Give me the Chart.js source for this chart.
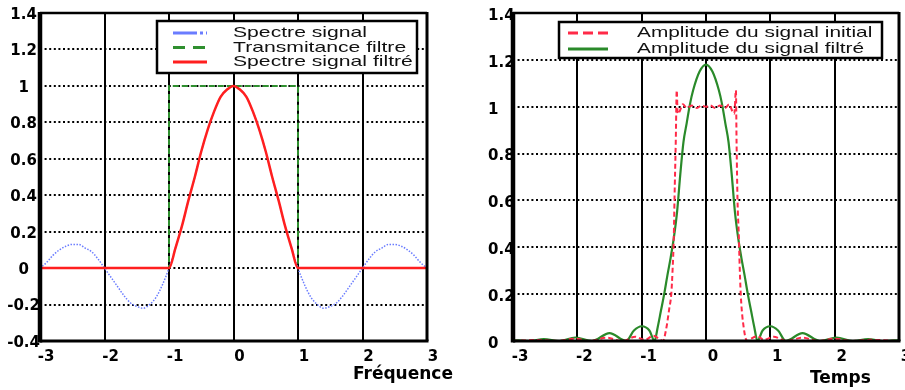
<!DOCTYPE html>
<html>
<head>
<meta charset="utf-8">
<script src="https://cdn.jsdelivr.net/npm/chart.js@4.4.1/dist/chart.umd.min.js"></script>
<style>
  html, body { margin: 0; padding: 0; background: #fff; }
  .box { position: absolute; top: 0; height: 390px; }
  #left { left: 0; width: 460px; }
  #right { left: 460px; width: 445px; }
</style>
</head>
<body>
<div class="box" id="left"><canvas id="spectre"></canvas></div>
<div class="box" id="right"><canvas id="temps"></canvas></div>
<script>
// left panel : spectrum vs frequency
const freqX = [-3.0, -2.9, -2.8, -2.7, -2.6, -2.5, -2.4, -2.3, -2.2, -2.1,
  -2.0, -1.9, -1.8, -1.7, -1.6, -1.5, -1.4, -1.3, -1.2, -1.1,
  -1.0, -0.9, -0.8, -0.7, -0.6, -0.5, -0.4, -0.3, -0.2, -0.1,
  0.0, 0.1, 0.2, 0.3, 0.4, 0.5, 0.6, 0.7, 0.8, 0.9,
  1.0, 1.1, 1.2, 1.3, 1.4, 1.5, 1.6, 1.7, 1.8, 1.9,
  2.0, 2.1, 2.2, 2.3, 2.4, 2.5, 2.6, 2.7, 2.8, 2.9, 3.0];
const spectreSignal = [0.00, 0.03, 0.07, 0.10, 0.12, 0.13, 0.13, 0.11, 0.09, 0.05,
  0.00, -0.05, -0.10, -0.15, -0.19, -0.21, -0.22, -0.20, -0.16, -0.09,
  0.00, 0.11, 0.23, 0.37, 0.50, 0.64, 0.76, 0.86, 0.94, 0.98,
  1.00, 0.98, 0.94, 0.86, 0.76, 0.64, 0.50, 0.37, 0.23, 0.11,
  0.00, -0.09, -0.16, -0.20, -0.22, -0.21, -0.19, -0.15, -0.10, -0.05,
  0.00, 0.05, 0.09, 0.11, 0.13, 0.13, 0.12, 0.10, 0.07, 0.03, 0.00];
const spectreFiltre = [0, 0, 0, 0, 0, 0, 0, 0, 0, 0,
  0, 0, 0, 0, 0, 0, 0, 0, 0, 0,
  0.00, 0.11, 0.23, 0.37, 0.50, 0.64, 0.76, 0.86, 0.94, 0.98,
  1.00, 0.98, 0.94, 0.86, 0.76, 0.64, 0.50, 0.37, 0.23, 0.11,
  0, 0, 0, 0, 0, 0, 0, 0, 0, 0,
  0, 0, 0, 0, 0, 0, 0, 0, 0, 0, 0];
const filtreX = [-3, -1, -1, 1, 1, 3];
const filtreY = [0, 0, 1, 1, 0, 0];

// right panel : amplitude vs time
const initX = [-3, -2.6, -2.3, -2.05, -1.8, -1.55, -1.3, -1.1, -0.95, -0.82, -0.72,
  -0.67, -0.62, -0.57, -0.54, -0.52, -0.5, -0.49, -0.47, -0.455, -0.44,
  -0.41, -0.36, -0.3, -0.22, -0.14, -0.07, 0, 0.07, 0.14,
  0.22, 0.3, 0.36, 0.41, 0.44, 0.465, 0.475, 0.49, 0.51, 0.52,
  0.54, 0.59, 0.64, 0.7, 0.8, 0.9, 1.05, 1.25, 1.5, 1.75, 2.0, 2.25, 2.55, 3];
const initY = [0, 0.004, 0, 0.01, 0, 0.014, 0, 0.018, 0.005, 0.022, 0.008,
  0.0, 0.05, 0.14, 0.2, 0.3, 0.45, 0.6, 0.85, 1.07, 0.97,
  0.98, 1.01, 0.995, 1.005, 0.995, 1.005, 1.0, 1.005, 0.995,
  1.005, 0.995, 1.01, 0.98, 0.97, 1.07, 0.85, 0.6, 0.45, 0.35,
  0.2, 0.05, 0.0, 0.01, 0.02, 0.005, 0.018, 0, 0.014, 0, 0.01, 0, 0.005, 0];
const filtX = [-3, -2.75, -2.52, -2.28, -2.03, -1.77, -1.5, -1.24, -1.12, -1.0, -0.88,
  -0.8, -0.75, -0.7, -0.65, -0.6, -0.55, -0.5, -0.45, -0.4, -0.35, -0.3,
  -0.25, -0.2, -0.1, 0, 0.1, 0.2, 0.25, 0.3, 0.35, 0.4, 0.45, 0.5, 0.55,
  0.6, 0.65, 0.7, 0.75, 0.8, 0.88, 1.0, 1.12, 1.24, 1.5, 1.77, 2.03, 2.28,
  2.52, 2.75, 3];
const filtY = [0.004, 0, 0.008, 0, 0.015, 0, 0.034, 0, 0.045, 0.063, 0.045,
  0, 0.06, 0.13, 0.2, 0.28, 0.355, 0.44, 0.55, 0.71, 0.85, 0.93,
  1.01, 1.07, 1.15, 1.18, 1.15, 1.07, 1.01, 0.93, 0.85, 0.71, 0.55, 0.44, 0.355,
  0.28, 0.2, 0.13, 0.06, 0, 0.045, 0.063, 0.045, 0, 0.034, 0, 0.015, 0,
  0.008, 0, 0.004];

const pts = (xs, ys) => xs.map((x, i) => ({ x: x, y: ys[i] }));

Chart.defaults.font.family = "'DejaVu Sans', sans-serif";
Chart.defaults.color = "#000";

// black frame round the plot, heavier on the left and bottom
const framePlugin = {
  id: "frame",
  afterDatasetsDraw(chart) {
    const { ctx, chartArea: a } = chart;
    ctx.save();
    ctx.strokeStyle = "#000";
    ctx.setLineDash([]);
    ctx.lineWidth = 2.5;
    ctx.beginPath(); ctx.moveTo(a.left, a.top); ctx.lineTo(a.right, a.top); ctx.stroke();
    ctx.lineWidth = 3;
    ctx.beginPath(); ctx.moveTo(a.right, a.top - 1); ctx.lineTo(a.right, a.bottom); ctx.stroke();
    ctx.beginPath(); ctx.moveTo(a.left, a.bottom); ctx.lineTo(a.right + 1.5, a.bottom); ctx.stroke();
    ctx.lineWidth = 4.5;
    ctx.beginPath(); ctx.moveTo(a.left, a.top - 1); ctx.lineTo(a.left, a.bottom + 1.5); ctx.stroke();
    ctx.restore();
  }
};

// boxed legend inside the plot, plus the axis name under the right end
const boxLegend = {
  id: "boxLegend",
  afterDraw(chart, args, o) {
    const ctx = chart.ctx;
    ctx.save();
    ctx.fillStyle = "#fff";
    ctx.fillRect(o.x, o.y, o.w, o.h);
    ctx.strokeStyle = "#000";
    ctx.lineWidth = 2.5;
    ctx.setLineDash([]);
    ctx.strokeRect(o.x, o.y, o.w, o.h);
    chart.data.datasets.forEach((ds, i) => {
      const y = o.rowY + i * o.rowH;
      ctx.strokeStyle = ds.borderColor;
      ctx.lineWidth = 3;
      ctx.setLineDash(ds.legendDash || []);
      ctx.beginPath();
      ctx.moveTo(o.sampleX, y);
      ctx.lineTo(o.sampleX + o.sampleW, y);
      ctx.stroke();
      ctx.setLineDash([]);
      ctx.save();
      ctx.translate(o.textX, y);
      ctx.scale(o.stretch, 1);
      ctx.font = "15px 'Liberation Sans', Arial, sans-serif";
      ctx.fillStyle = "#111";
      ctx.textBaseline = "middle";
      ctx.fillText(ds.label, 0, 0);
      ctx.restore();
    });
    ctx.font = "bold 17px 'DejaVu Sans', sans-serif";
    ctx.fillStyle = "#000";
    ctx.textBaseline = "middle";
    ctx.fillText(o.axisName, o.axisX, o.axisY);
    ctx.restore();
  }
};

// 1.0 -> "1", -0.0 -> "0"
const shortNum = (v) => {
  const r = Math.round(v * 10) / 10;
  return String(r === 0 ? 0 : r);
};

function xScale(offset) {
  return {
    type: "linear", min: -3, max: 3,
    ticks: { stepSize: 1, autoSkip: false, maxRotation: 0, padding: 7, labelOffset: offset,
      font: { size: 15, weight: "bold" }, color: "#000" },
    grid: { color: "#000", lineWidth: 2, drawTicks: false },
    border: { display: false },
    afterFit(s) { s.height = 49; s.paddingLeft = 0; s.paddingRight = 0; }
  };
}

function yScale(min, width, align, offset) {
  return {
    min: min, max: 1.4,
    ticks: { stepSize: 0.2, padding: 0, crossAlign: align, labelOffset: offset, callback: shortNum,
      font: { size: 15, weight: "bold" }, color: "#000" },
    grid: { color: "#000", lineWidth: 2, drawTicks: false },
    border: { display: false, dash: [2, 2.6] },
    afterFit(s) { s.width = width; s.paddingTop = 0; s.paddingBottom = 0; }
  };
}

new Chart(document.getElementById("spectre"), {
  type: "line",
  data: {
    datasets: [
      { label: "Spectre signal", data: pts(freqX, spectreSignal), borderColor: "#6a7cff",
        borderWidth: 1.5, borderDash: [1.5, 1.5], legendDash: [24, 3, 3, 3],
        cubicInterpolationMode: "monotone", order: 3 },
      { label: "Transmitance filtre", data: pts(filtreX, filtreY), borderColor: "#2f8f2f",
        borderWidth: 2, borderDash: [6, 3], legendDash: [12, 8], order: 2 },
      { label: "Spectre signal filtré", data: pts(freqX, spectreFiltre), borderColor: "#ff1f1f",
        borderWidth: 2.5, cubicInterpolationMode: "monotone", order: 1 }
    ]
  },
  options: {
    responsive: true, maintainAspectRatio: false, animation: false, devicePixelRatio: 1,
    layout: { padding: { left: 0, top: 13, right: 33, bottom: 0 } },
    elements: { point: { radius: 0 } },
    plugins: {
      legend: { display: false }, tooltip: { enabled: false },
      boxLegend: { x: 157, y: 21, w: 260, h: 52, rowY: 33, rowH: 14.5, sampleX: 173, sampleW: 34,
        textX: 233, stretch: 1.41, axisName: "Fréquence", axisX: 353, axisY: 375 }
    },
    scales: { x: xScale(6), y: yScale(-0.4, 40, "center", 2) }
  },
  plugins: [framePlugin, boxLegend]
});

new Chart(document.getElementById("temps"), {
  type: "line",
  data: {
    datasets: [
      { label: "Amplitude du signal initial", data: pts(initX, initY), borderColor: "#ff2a48",
        borderWidth: 2, borderDash: [5, 3], legendDash: [10, 5], cubicInterpolationMode: "monotone", order: 1 },
      { label: "Amplitude du signal filtré", data: pts(filtX, filtY), borderColor: "#2a8a2a",
        borderWidth: 2.2, cubicInterpolationMode: "monotone", order: 2 }
    ]
  },
  options: {
    responsive: true, maintainAspectRatio: false, animation: false, devicePixelRatio: 1,
    layout: { padding: { left: 28, top: 13, right: 6, bottom: 0 } },
    elements: { point: { radius: 0 } },
    plugins: {
      legend: { display: false }, tooltip: { enabled: false },
      boxLegend: { x: 99, y: 22, w: 323, h: 36, rowY: 33, rowH: 16, sampleX: 108, sampleW: 40,
        textX: 177, stretch: 1.39, axisName: "Temps", axisX: 350, axisY: 379 }
    },
    scales: { x: xScale(7), y: yScale(0, 25, "far", 3) }
  },
  plugins: [framePlugin, boxLegend]
});
</script>
</body>
</html>
